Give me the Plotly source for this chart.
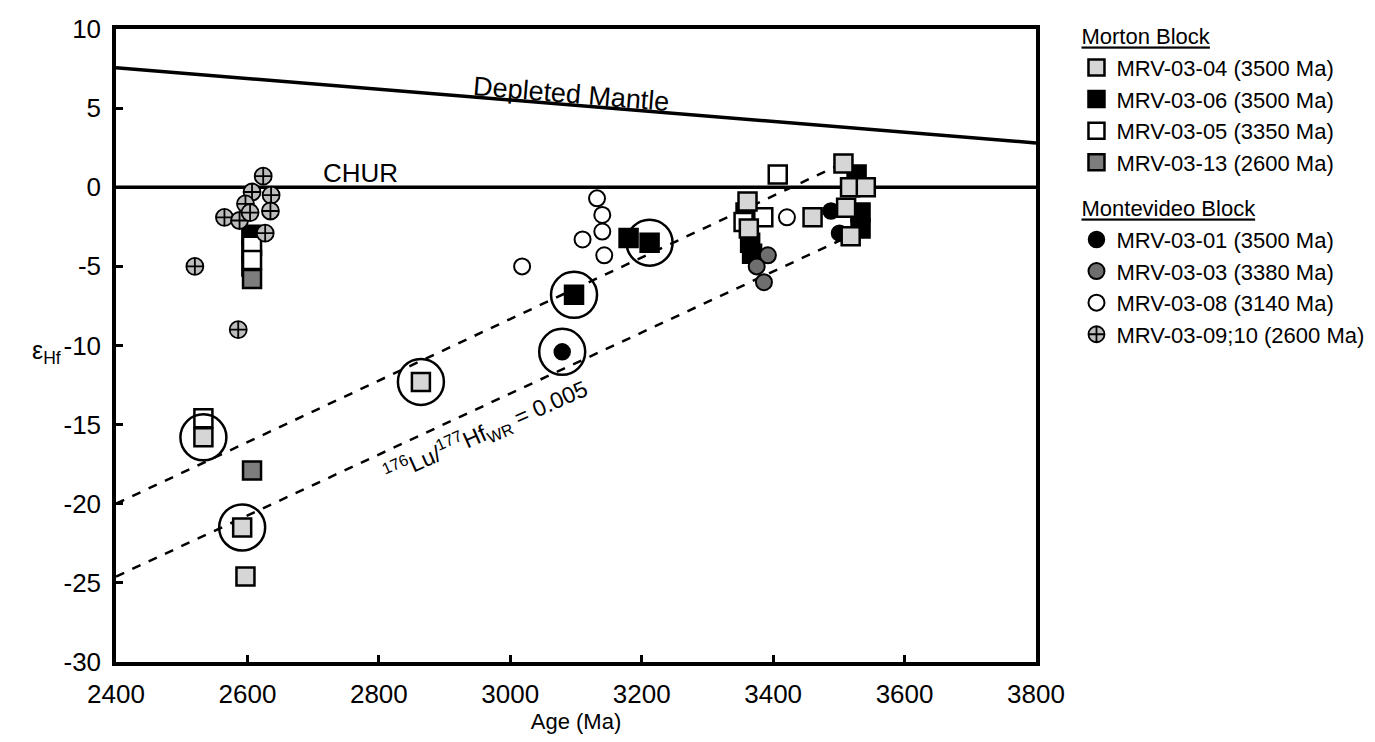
import plotly.graph_objects as go

# ---- data ----
# Morton Block
m04_x = [2533, 2592, 2597, 2864, 3361, 3363, 3460, 3507, 3517, 3541, 3511, 3518]
m04_y = [-15.8, -21.5, -24.6, -12.3, -0.9, -2.6, -1.9, 1.5, 0.0, 0.0, -1.3, -3.1]
m06_x = [3180, 3212, 3097, 3358, 3365, 3368, 3527, 3533, 3533, 2606, 2606, 2606]
m06_y = [-3.2, -3.5, -6.8, -1.6, -3.5, -4.2, 0.8, -1.6, -2.6, -3.0, -4.0, -5.0]
m05_x = [3407, 3385, 3355, 2533, 2607, 2607]
m05_y = [0.8, -1.9, -2.2, -14.6, -3.7, -4.6]
m13_x = [2607, 2607]
m13_y = [-5.8, -17.9]
# Montevideo Block
v01_x = [3079, 3488, 3501]
v01_y = [-10.4, -1.5, -2.9]
v03_x = [3392, 3375, 3386]
v03_y = [-4.3, -5.0, -6.0]
v08_x = [3132, 3140, 3140, 3143, 3110, 3018, 3421]
v08_y = [-0.7, -1.75, -2.8, -4.3, -3.3, -5.0, -1.9]
v09_x = [2624, 2607, 2636, 2597, 2635, 2565, 2588, 2604, 2627, 2520, 2586]
v09_y = [0.7, -0.3, -0.5, -1.05, -1.5, -1.9, -2.1, -1.6, -2.9, -5.0, -9.0]
# circled analyses
circ_x = [2533, 2592, 2864, 3079, 3097, 3212]
circ_y = [-15.8, -21.5, -12.3, -10.4, -6.8, -3.5]
# reference lines
dm_x = [2400, 3800]
dm_y = [7.55, 2.8]
chur_x = [2400, 3800]
chur_y = [0, 0]
upper_x = [2400, 3500]
upper_y = [-20.0, 1.4]
lower_x = [2400, 3505]
lower_y = [-24.6, -3.3]
# tick labels
x_ticks = [2400, 2600, 2800, 3000, 3200, 3400, 3600, 3800]
x_labels = ["2400", "2600", "2800", "3000", "3200", "3400", "3600", "3800"]
y_ticks = [10, 5, 0, -5, -10, -15, -20, -25, -30]
y_labels = ["10", "5", "0", "-5", "-10", "-15", "-20", "-25", "-30"]

FONT = "Liberation Sans, Arial, sans-serif"

fig = go.Figure()

# lines
fig.add_trace(go.Scatter(x=dm_x, y=dm_y, mode="lines", line=dict(color="black", width=3.5),
                         showlegend=False, hoverinfo="skip"))
fig.add_trace(go.Scatter(x=chur_x, y=chur_y, mode="lines", line=dict(color="black", width=3.5),
                         showlegend=False, hoverinfo="skip"))
fig.add_trace(go.Scatter(x=upper_x, y=upper_y, mode="lines",
                         line=dict(color="black", width=2.5, dash="dash"),
                         showlegend=False, hoverinfo="skip"))
fig.add_trace(go.Scatter(x=lower_x, y=lower_y, mode="lines",
                         line=dict(color="black", width=2.5, dash="dash"),
                         showlegend=False, hoverinfo="skip"))

mline = dict(color="black", width=2.5)

# Montevideo black circles (drawn beneath squares)
fig.add_trace(go.Scatter(x=v01_x, y=v01_y, mode="markers", name="MRV-03-01 (3500 Ma)",
                         legendgroup="mv",
                         legendgrouptitle=dict(text="<span style='text-decoration:underline'>Montevideo Block</span>"),
                         legendrank=5,
                         marker=dict(symbol="circle", size=16, color="black", line=dict(color="black", width=1.5))))
# Morton squares
fig.add_trace(go.Scatter(x=m06_x, y=m06_y, mode="markers", name="MRV-03-06 (3500 Ma)",
                         legendgroup="mb", legendrank=2,
                         marker=dict(symbol="square", size=18, color="black", line=mline)))
fig.add_trace(go.Scatter(x=m05_x, y=m05_y, mode="markers", name="MRV-03-05 (3350 Ma)",
                         legendgroup="mb", legendrank=3,
                         marker=dict(symbol="square", size=18, color="white", line=mline)))
fig.add_trace(go.Scatter(x=m04_x, y=m04_y, mode="markers", name="MRV-03-04 (3500 Ma)",
                         legendgroup="mb", legendrank=1,
                         legendgrouptitle=dict(text="<span style='text-decoration:underline'>Morton Block</span>"),
                         marker=dict(symbol="square", size=18, color="#d6d6d6", line=mline)))
fig.add_trace(go.Scatter(x=m13_x, y=m13_y, mode="markers", name="MRV-03-13 (2600 Ma)",
                         legendgroup="mb", legendrank=4,
                         marker=dict(symbol="square", size=18, color="#7d7d7d", line=mline)))
# Montevideo circles on top
fig.add_trace(go.Scatter(x=v03_x, y=v03_y, mode="markers", name="MRV-03-03 (3380 Ma)",
                         legendgroup="mv", legendrank=6,
                         marker=dict(symbol="circle", size=16, color="#6e6e6e", line=dict(color="black", width=2))))
fig.add_trace(go.Scatter(x=v08_x, y=v08_y, mode="markers", name="MRV-03-08 (3140 Ma)",
                         legendgroup="mv", legendrank=7,
                         marker=dict(symbol="circle", size=16, color="white", line=dict(color="black", width=2))))
fig.add_trace(go.Scatter(x=v09_x, y=v09_y, mode="markers", name="MRV-03-09;10 (2600 Ma)",
                         legendgroup="mv", legendrank=8,
                         marker=dict(symbol="circle-cross", size=17, color="#bdbdbd", line=dict(color="black", width=1.8))))
# circled analyses
fig.add_trace(go.Scatter(x=circ_x, y=circ_y, mode="markers", showlegend=False, hoverinfo="skip",
                         marker=dict(symbol="circle-open", size=46, color="black", line=dict(color="black", width=2.5))))

# text annotations
fig.add_annotation(x=3093, y=5.9, text="Depleted Mantle", showarrow=False, textangle=4.7,
                   font=dict(family=FONT, size=27, color="black"))
fig.add_annotation(x=2772, y=0.9, text="CHUR", showarrow=False,
                   font=dict(family=FONT, size=26, color="black"))
fig.add_annotation(x=2963, y=-15.4, text="<sup>176</sup>Lu/<sup>177</sup>Hf<sub>WR</sub> = 0.005",
                   showarrow=False, textangle=-24,
                   font=dict(family=FONT, size=23, color="black"))
fig.add_annotation(xref="paper", yref="paper", x=-0.058, xanchor="right", y=0.49, text="ε<sub>Hf</sub>",
                   showarrow=False, font=dict(family=FONT, size=25, color="black"))

axis_common = dict(showline=True, linecolor="black", linewidth=3.5, mirror=True,
                   ticks="inside", ticklen=7, tickwidth=3, tickcolor="black",
                   showgrid=False, zeroline=False,
                   tickfont=dict(family=FONT, size=26, color="black"))

fig.update_xaxes(range=[2400, 3800], tickmode="array", tickvals=x_ticks, ticktext=x_labels,
                 ticklabelstandoff=6,
                 title=dict(text="Age (Ma)", font=dict(family=FONT, size=22, color="black"), standoff=2),
                 **axis_common)
fig.update_yaxes(range=[-30, 10], tickmode="array", tickvals=y_ticks, ticktext=y_labels,
                 ticklabelstandoff=6, **axis_common)

# the page body keeps its default 8 px margin; margins are fixed (no auto-expansion)
fig.update_layout(
    width=1375, height=742,
    margin=dict(l=108, r=347, t=21, b=88, autoexpand=False),
    paper_bgcolor="white", plot_bgcolor="white",
    font=dict(family=FONT, color="black"),
    legend=dict(x=1.044, y=1.022, xanchor="left", yanchor="top",
                font=dict(family=FONT, size=22, color="black"),
                grouptitlefont=dict(family=FONT, size=22, color="black"),
                traceorder="grouped", tracegroupgap=14,
                itemwidth=30, bgcolor="rgba(0,0,0,0)"),
)

fig.write_html("out.html")
